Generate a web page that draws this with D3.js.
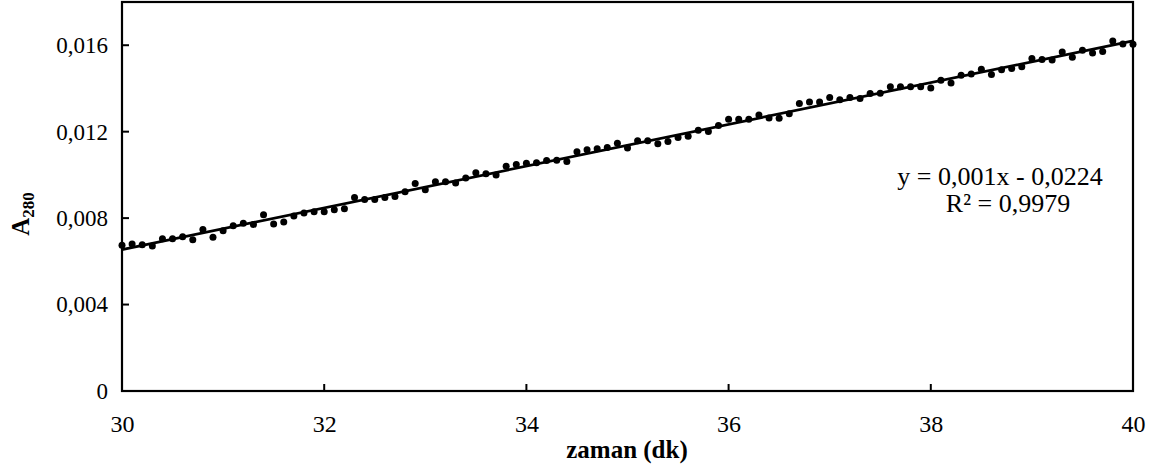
<!DOCTYPE html>
<html><head><meta charset="utf-8">
<script src="https://cdn.jsdelivr.net/npm/d3@7"></script>
<style>body{margin:0;background:#fff}svg{display:block}svg text{font-family:"Liberation Serif","Times New Roman",serif !important}</style>
</head><body><svg id="c" width="1154" height="466"></svg>
<script>
const times = d3.range(101).map(i => +(30 + i * 0.1).toFixed(1));
const absorbance = [
0.00674,0.00680,0.00677,0.00671,0.00704,0.00704,0.00714,0.00700,0.00747,0.00711,
0.00741,0.00765,0.00776,0.00771,0.00815,0.00773,0.00782,0.00810,0.00824,0.00829,
0.00830,0.00839,0.00843,0.00895,0.00886,0.00886,0.00895,0.00900,0.00922,0.00960,
0.00931,0.00968,0.00968,0.00962,0.00986,0.01010,0.01005,0.00999,0.01040,0.01048,
0.01054,0.01056,0.01067,0.01068,0.01062,0.01107,0.01116,0.01121,0.01127,0.01146,
0.01125,0.01158,0.01158,0.01144,0.01155,0.01173,0.01179,0.01207,0.01201,0.01229,
0.01257,0.01257,0.01257,0.01277,0.01263,0.01262,0.01283,0.01330,0.01337,0.01337,
0.01358,0.01348,0.01358,0.01354,0.01377,0.01378,0.01408,0.01408,0.01408,0.01408,
0.01402,0.01438,0.01425,0.01461,0.01467,0.01489,0.01464,0.01486,0.01492,0.01500,
0.01538,0.01534,0.01532,0.01569,0.01544,0.01577,0.01564,0.01571,0.01619,0.01606,
0.01605];
const xTicks = [30,32,34,36,38,40];
const yTicks = [0,0.004,0.008,0.012,0.016];
const equationLines = ["y = 0,001x - 0,0224", "R² = 0,9979"];

const W=1154,H=466,m={l:122,r:21,t:2,b:75};
const svg=d3.select("#c");
const x=d3.scaleLinear().domain([30,40]).range([m.l,W-m.r]);
const y=d3.scaleLinear().domain([0,0.018]).range([H-m.b,m.t]);
const fmtY=d=>d===0?"0":d.toFixed(3).replace(".",",");
const FF='"Liberation Serif","Times New Roman",serif';

// axes
const gx=svg.append("g").attr("transform",`translate(0,${H-m.b})`)
 .call(d3.axisBottom(x).tickValues(xTicks).tickSize(0).tickFormat(d=>d));
const gy=svg.append("g").attr("transform",`translate(${m.l},0)`)
 .call(d3.axisLeft(y).tickValues(yTicks).tickSize(0).tickPadding(14).tickFormat(fmtY));
[gx,gy].forEach(g=>{g.attr("font-family",FF).attr("font-size",23);g.select(".domain").remove();
 g.selectAll("text").style("font-family",FF).style("font-size","23px").attr("fill","#000");});
gx.selectAll("text").style("font-size","24px").attr("dy",0).attr("y",41);
// inward tick marks
svg.append("g").selectAll("line").data(yTicks).join("line")
 .attr("x1",m.l).attr("x2",m.l+7).attr("y1",d=>y(d)).attr("y2",d=>y(d)).attr("stroke","#000").attr("stroke-width",2);
svg.append("g").selectAll("line").data(xTicks).join("line")
 .attr("x1",d=>x(d)).attr("x2",d=>x(d)).attr("y1",H-m.b).attr("y2",H-m.b-7).attr("stroke","#000").attr("stroke-width",2);
// frame
svg.append("rect").attr("x",m.l).attr("y",m.t).attr("width",W-m.l-m.r).attr("height",H-m.t-m.b)
 .attr("fill","none").attr("stroke","#000").attr("stroke-width",2.2);

// points
svg.append("g").selectAll("circle").data(times).join("circle")
 .attr("cx",d=>x(d)).attr("cy",(d,i)=>y(absorbance[i])).attr("r",3.5).attr("fill","#000");

// regression
const mx=d3.mean(times),my=d3.mean(absorbance);
let sxy=0,sxx=0;times.forEach((t,i)=>{sxy+=(t-mx)*(absorbance[i]-my);sxx+=(t-mx)*(t-mx);});
const slope=sxy/sxx,inter=my-slope*mx;
svg.append("line").attr("x1",x(30)).attr("x2",x(40)).attr("y1",y(slope*30+inter)).attr("y2",y(slope*40+inter))
 .attr("stroke","#000").attr("stroke-width",2.7);

// equation
svg.append("g").selectAll("text").data(equationLines).join("text")
 .attr("x",(d,i)=>i?1008:1000).attr("y",(d,i)=>185+i*27).attr("text-anchor","middle")
 .style("font-family",FF).style("font-size","26px").text(d=>d);

// axis titles
svg.append("text").attr("x",627).attr("y",458).attr("text-anchor","middle")
 .style("font-family",FF).style("font-size","25px").attr("font-weight","bold").text("zaman (dk)");
const yt=svg.append("text").attr("transform","translate(29,214) rotate(-90)").attr("text-anchor","middle")
 .style("font-family",FF).style("font-size","25px").attr("font-weight","bold");
yt.append("tspan").text("A");
yt.append("tspan").style("font-size","17px").attr("dy",5).text("280");
</script></body></html>
